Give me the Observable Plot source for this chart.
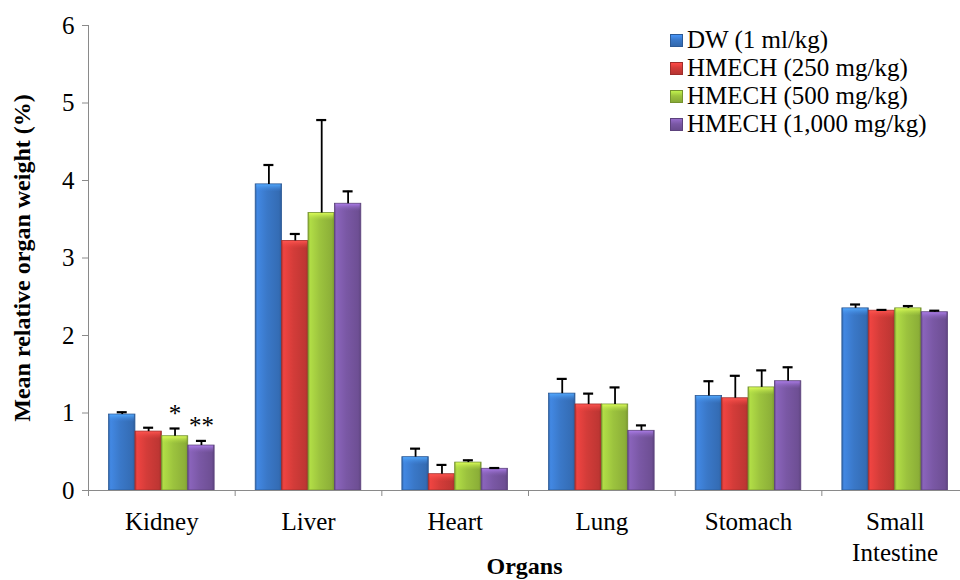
<!DOCTYPE html>
<html>
<head>
<meta charset="utf-8">
<script src="https://cdn.jsdelivr.net/npm/d3@7"></script>
<script src="https://cdn.jsdelivr.net/npm/@observablehq/plot@0.6"></script>
<style>
  body { margin: 0; background: #fff; }
  #wrap { position: relative; width: 960px; height: 580px; font-family: "Liberation Serif", "Times New Roman", serif; color: #000; }
  #defs { position: absolute; width: 0; height: 0; }
  #legend { position: absolute; left: 670px; top: 26px; font-size: 25px; line-height: 28px; white-space: nowrap; }
  #legend .item { display: flex; align-items: center; height: 28px; }
  #legend .sw { width: 13px; height: 13px; margin-right: 4px; box-sizing: border-box; border: 1px solid; }
</style>
</head>
<body>
<div id="wrap">
  <svg id="defs"><defs id="gradDefs"></defs></svg>
  <div id="chart"></div>
  <div id="legend"></div>
</div>
<script>
// ---- data ----
const organs = ["Kidney", "Liver", "Heart", "Lung", "Stomach", "Small\nIntestine"];
const groups = ["DW (1 ml/kg)", "HMECH (250 mg/kg)", "HMECH (500 mg/kg)", "HMECH (1,000 mg/kg)"];

const dw       = [0.98, 3.95, 0.43, 1.25, 1.22, 2.35];
const dwErr    = [0.03, 0.25, 0.11, 0.19, 0.19, 0.05];
const h250     = [0.76, 3.22, 0.21, 1.11, 1.19, 2.32];
const h250Err  = [0.05, 0.09, 0.12, 0.14, 0.29, 0.01];
const h500     = [0.70, 3.58, 0.36, 1.11, 1.33, 2.35];
const h500Err  = [0.10, 1.20, 0.03, 0.22, 0.22, 0.03];
const h1000    = [0.58, 3.70, 0.28, 0.77, 1.41, 2.30];
const h1000Err = [0.06, 0.16, 0.01, 0.07, 0.18, 0.02];

const sig500  = ["*", "", "", "", "", ""];
const sig1000 = ["**", "", "", "", "", ""];

const yTicks = [0, 1, 2, 3, 4, 5, 6];
const yLabel = "Mean relative organ weight (%)";
const xLabel = "Organs";

// ---- styles ----
const colors = ["#3a78c8", "#d33c39", "#9cc33e", "#7a58a5"];

(function () {
  // gradients
  const defs = d3.select("#gradDefs");
  colors.forEach((c, j) => {
    const base = d3.color(c);
    const g = defs.append("linearGradient").attr("id", "barg" + j)
      .attr("x1", "0").attr("x2", "1").attr("y1", "0").attr("y2", "0");
    [[0, base.darker(0.5)], [0.08, base.brighter(0.35)], [0.45, base], [0.9, base.darker(0.3)], [1, base.darker(0.7)]]
      .forEach(([o, col]) => g.append("stop").attr("offset", o).attr("stop-color", col.formatHex()));
    const h = defs.append("linearGradient").attr("id", "barh" + j)
      .attr("x1", "0").attr("x2", "0").attr("y1", "0").attr("y2", "1");
    [[0, base.brighter(1.0), 0.9], [1, base.brighter(0.3), 0.0]]
      .forEach(([o, col, op]) => h.append("stop").attr("offset", o).attr("stop-color", col.formatHex()).attr("stop-opacity", op));
  });

  // ---- table ----
  const series = [dw, h250, h500, h1000];
  const errs = [dwErr, h250Err, h500Err, h1000Err];
  const sigs = [[], [], sig500, sig1000];
  const rows = [];
  organs.forEach((o, i) => series.forEach((s, j) => rows.push({
    organ: o, oi: i, gi: j, group: groups[j], value: s[i], err: errs[j][i], sig: sigs[j][i] || ""
  })));

  const pad = 0.14, bw = 0.18, bevel = 0.1;
  const bx1 = d => d.oi + pad + bw * d.gi;
  const bx2 = d => d.oi + pad + bw * (d.gi + 1);
  const bxc = d => d.oi + pad + bw * (d.gi + 0.5);
  const errTop = d => d.value + d.err;

  const axisGrey = "#8a8a8a";

  const plot = Plot.plot({
    width: 960,
    height: 580,
    marginTop: 25,
    marginBottom: 90,
    marginLeft: 88,
    marginRight: 0,
    style: { fontFamily: "'Liberation Serif', 'Times New Roman', serif", fontSize: "25px", color: "#000", background: "transparent", overflow: "visible" },
    x: { domain: [0, organs.length], range: [88, 968], axis: null },
    y: { domain: [0, 6], axis: null },
    marks: [
      ...groups.map((g, j) => Plot.rectY(rows.filter(d => d.gi === j), {
        x1: bx1, x2: bx2, y: "value",
        fill: `url(#barg${j})`,
        stroke: d3.color(colors[j]).darker(0.8).formatHex(),
        strokeWidth: 0.8
      })),
      ...groups.map((g, j) => Plot.rectY(rows.filter(d => d.gi === j), {
        x1: bx1, x2: bx2, y1: "value", y2: d => d.value - bevel,
        insetLeft: 1, insetRight: 1, insetTop: 0.5,
        fill: `url(#barh${j})`
      })),
      Plot.ruleX(rows, { x: bxc, y1: "value", y2: errTop, stroke: "#000", strokeWidth: 1.8 }),
      Plot.ruleY(rows, { x1: bxc, x2: bxc, y: errTop, insetLeft: -5, insetRight: -5, stroke: "#000", strokeWidth: 2.2 }),
      Plot.text(rows.filter(d => d.sig), { x: bxc, y: errTop, text: "sig", lineAnchor: "bottom", dy: -7, fontSize: 25 }),
      Plot.ruleX([0], { stroke: axisGrey }),
      Plot.ruleY([0], { stroke: axisGrey }),
      Plot.axisY({ ticks: yTicks, tickFormat: "d", tickSize: 6, tickPadding: 8, stroke: axisGrey, label: null, fontSize: 25 }),
      Plot.axisX({ ticks: d3.range(organs.length + 1), tickSize: 6, tickFormat: () => "", stroke: axisGrey, label: null }),
      Plot.text(organs, { x: (d, i) => i + 0.5, frameAnchor: "bottom", lineAnchor: "top", dy: 17, lineHeight: 1.25, fontSize: 25 }),
      Plot.text([xLabel], { frameAnchor: "bottom", lineAnchor: "top", dy: 66, fontWeight: "bold", fontSize: 24 }),
      Plot.text([yLabel], { frameAnchor: "left", textAnchor: "middle", lineAnchor: "middle", rotate: -90, dx: -66, fontWeight: "bold", fontSize: 24 })
    ]
  });
  document.getElementById("chart").appendChild(plot);

  // legend
  const legend = d3.select("#legend");
  groups.forEach((g, j) => {
    const base = d3.color(colors[j]);
    const item = legend.append("div").attr("class", "item");
    item.append("span").attr("class", "sw")
      .style("background", `linear-gradient(180deg, ${base.brighter(0.6).formatHex()} 0%, ${base.formatHex()} 45%, ${base.darker(0.4).formatHex()} 100%)`)
      .style("border-color", base.darker(0.8).formatHex());
    item.append("span").text(g);
  });
})();
</script>
</body>
</html>
